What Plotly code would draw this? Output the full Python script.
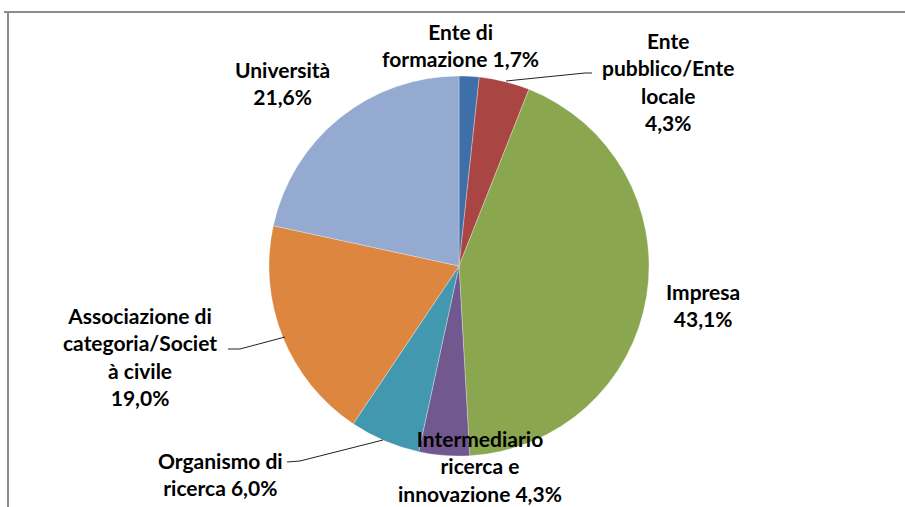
import plotly.graph_objects as go

categories = ["Ente di formazione", "Ente pubblico/Ente locale", "Impresa",
              "Intermediario ricerca e innovazione", "Organismo di ricerca",
              "Associazione di categoria/Societ à civile", "Università"]
values = [1.7, 4.3, 43.1, 4.3, 6.0, 19.0, 21.6]
label_texts = ["Ente di<br>formazione 1,7%", "Ente<br>pubblico/Ente<br>locale<br>4,3%",
               "Impresa<br>43,1%", "Intermediario<br>ricerca e<br>innovazione 4,3%",
               "Organismo di<br>ricerca 6,0%", "Associazione di<br>categoria/Societ<br>à civile<br>19,0%",
               "Università<br>21,6%"]
colors = ["#3F6FA8", "#A94643", "#8AA64F", "#71588F", "#4298AF", "#DC8640", "#94AAD0"]

W, H = 905, 507
cx, cy, r = 459, 266, 190

fig = go.Figure(go.Pie(
    labels=categories, values=values, sort=False, direction="clockwise", rotation=0,
    marker=dict(colors=colors, line=dict(color="white", width=0.3)),
    textinfo="none", hoverinfo="label+percent", showlegend=False,
    domain=dict(x=[(cx - r) / W, (cx + r) / W], y=[(H - cy - r) / H, (H - cy + r) / H]),
))

# label centers in pixels (label layout)
label_pos = [(460, 45), (668, 82), (703, 305), (480, 466), (220, 474), (140, 356), (282, 83)]
FONT = dict(family="Lato, 'Open Sans', sans-serif", size=21, color="#000000")
for txt, (x, y) in zip(label_texts, label_pos):
    fig.add_annotation(x=x / W, y=1 - y / H, xref="paper", yref="paper", text="<b>" + txt + "</b>",
                       showarrow=False, font=FONT, align="center", xanchor="center", yanchor="middle")

def px_line(pts, color="#222222", width=1):
    for (x0, y0), (x1, y1) in zip(pts[:-1], pts[1:]):
        fig.add_shape(type="line", xref="paper", yref="paper",
                      x0=x0 / W, y0=1 - y0 / H, x1=x1 / W, y1=1 - y1 / H,
                      line=dict(color=color, width=width))

# leader lines
px_line([(506, 81), (585, 73), (592, 73)])
px_line([(228, 349), (240, 349), (285, 337)])
px_line([(287, 462), (300, 461), (383, 440)])

# frame
px_line([(4, 12), (905, 12)], color="#8c8c8c", width=2)
px_line([(8, 12), (8, 507)], color="#8c8c8c", width=2)

fig.update_layout(width=W, height=H, margin=dict(l=0, r=0, t=0, b=0),
                  paper_bgcolor="white", plot_bgcolor="white")
fig.write_html("out.html", config={"displayModeBar": False},
               post_script="document.body.style.margin='0';")
